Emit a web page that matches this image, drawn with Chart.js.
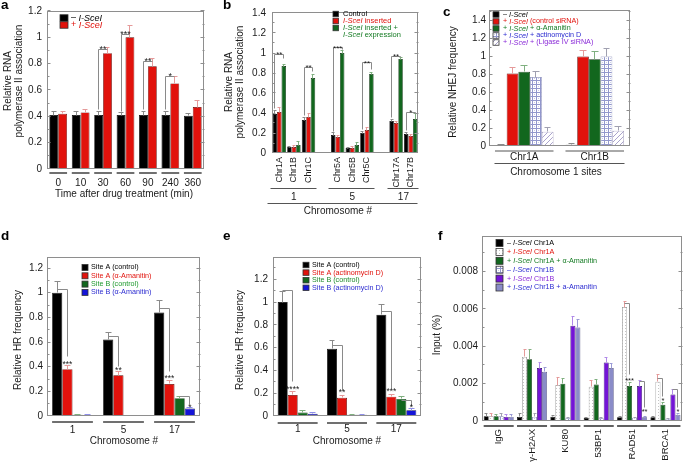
<!DOCTYPE html>
<html><head><meta charset="utf-8">
<script src="https://cdn.jsdelivr.net/npm/chart.js@4.4.1/dist/chart.umd.min.js"></script>
<style>
html,body{margin:0;padding:0;background:#fff}
body{width:685px;height:464px;position:relative;overflow:hidden}
canvas{position:absolute;left:0;top:0}
</style></head><body>
<canvas id="pa" width="685" height="464"></canvas>
<canvas id="pb" width="685" height="464"></canvas>
<canvas id="pc" width="685" height="464"></canvas>
<canvas id="pd" width="685" height="464"></canvas>
<canvas id="pe" width="685" height="464"></canvas>
<canvas id="pf" width="685" height="464"></canvas>
<script>
// ---------------- DATA ----------------
// panel a
const aLabels = ['0','10','30','60','90','240','360'];
const aMinusISceI = [0.41,0.41,0.41,0.41,0.41,0.41,0.405];
const aMinusISceIErr = [0.03,0.03,0.03,0.02,0.03,0.03,0.02];
const aPlusISceI = [0.42,0.43,0.88,1.00,0.78,0.65,0.47];
const aPlusISceIErr = [0.02,0.02,0.04,0.09,0.06,0.05,0.05];
// panel b
const bLabels = ['Chr1A','Chr1B','Chr1C','','Chr5A','Chr5B','Chr5C','','Chr17A','Chr17B'];
const bGroups = ['1','5','17'];
const bControl = [0.39,0.06,0.33,null,0.18,0.05,0.20,null,0.32,0.19];
const bControlErr = [0.04,0.01,0.03,null,0.03,0.01,0.02,null,0.02,0.02];
const bInserted = [0.41,0.06,0.36,null,0.16,0.05,0.23,null,0.30,0.17];
const bInsertedErr = [0.05,0.02,0.03,null,0.02,0.02,0.03,null,0.02,0.02];
const bExpression = [0.87,0.08,0.75,null,1.00,0.08,0.79,null,0.94,0.34];
const bExpressionErr = [0.02,0.04,0.04,null,0.02,0.03,0.02,null,0.02,0.05];
// panel c
const cLabels = ['Chr1A','Chr1B'];
const cMinus = [0.01,0.015];            const cMinusErr = [0.01,0.01];
const cControlSi = [0.81,1.00];         const cControlSiErr = [0.07,0.07];
const cAmanitin = [0.83,0.97];          const cAmanitinErr = [0.07,0.09];
const cActD = [0.77,1.00];              const cActDErr = [0.06,0.09];
const cLigIV = [0.16,0.17];             const cLigIVErr = [0.05,0.05];
// panel d
const dLabels = ['1','5','17'];
const dACtrl = [1.00,0.62,0.84];        const dACtrlErr = [0.09,0.06,0.10];
const dAAma = [0.38,0.33,0.26];         const dAAmaErr = [0.03,0.03,0.03];
const dBCtrl = [0.010,0.005,0.145];     const dBCtrlErr = [0.004,0.003,0.01];
const dBAma = [0.008,0.003,0.060];      const dBAmaErr = [0.004,0.002,0.01];
// panel e
const eLabels = ['1','5','17'];
const eACtrl = [1.00,0.59,0.89];        const eACtrlErr = [0.09,0.07,0.09];
const eAActD = [0.185,0.16,0.17];       const eAActDErr = [0.03,0.02,0.02];
const eBCtrl = [0.03,0.01,0.15];        const eBCtrlErr = [0.02,0.005,0.02];
const eBActD = [0.02,0.01,0.05];        const eBActDErr = [0.015,0.005,0.02];
// panel f
const fLabels = ['IgG','\u03b3-H2AX','KU80','53BP1','RAD51','BRCA1'];
const fMinus1A   = [0.00025,0.00022,0.00023,0.00017,0.00020,0.00020];
const fMinus1AErr= [0.00015,0.00020,0.00004,0.00003,0.00003,0.00003];
const fPlus1A    = [0.00025,0.00343,0.00192,0.00183,0.00610,0.00210];
const fPlus1AErr = [0.00015,0.00040,0.00040,0.00035,0.00030,0.00040];
const fPlus1AAma = [0.00025,0.00330,0.00200,0.00195,0.00187,0.00087];
const fPlus1AAmaErr=[0.00012,0.00055,0.00030,0.00025,0.00020,0.00010];
const fMinus1B   = [0.00025,0.00022,0.00015,0.00015,0.00018,0.00012];
const fMinus1BErr= [0.00015,0.00020,0.00004,0.00003,0.00003,0.00003];
const fPlus1B    = [0.00022,0.00283,0.00510,0.00313,0.00187,0.00142];
const fPlus1BErr = [0.00015,0.00030,0.00050,0.00025,0.00030,0.00025];
const fPlus1BAma = [0.00022,0.00263,0.00500,0.00283,0.00020,0.00033];
const fPlus1BAmaErr=[0.00012,0.00025,0.00045,0.00025,0.00003,0.00005];

// ---------------- STYLE ----------------
const FONT = "'Liberation Sans', Arial, Helvetica, sans-serif";
const COL = {black:'#000000', red:'#e1120c', green:'#12671e', blue:'#1414d8', purple:'#7314d6', lav:'#8a8cc8',
  tBlue:'#2b2bd0', tPurple:'#8a2ad8', tGreen:'#137a22'};
const ERR = {black:'#8a8a8a', red:'#e59a9a', green:'#80b080', blue:'#8f8fe8', grey:'#a0a0b0', purple:'#b08ae8', lav:'#9a9ad6'};

function tile(w, h, draw) {
  const c = document.createElement('canvas'); c.width = w; c.height = h;
  const g = c.getContext('2d'); draw(g);
  return g.createPattern(c, 'repeat');
}
const PAT_CHECK = tile(4, 4, g => { g.fillStyle = '#ffffff'; g.fillRect(0,0,4,4); g.fillStyle = '#9297cc'; g.fillRect(0,0,4,1); g.fillRect(0,0,1,4); g.fillStyle='#c9cbe8'; g.fillRect(2,2,1,1); });
const PAT_HATCH = tile(5, 5, g => { g.fillStyle = '#ffffff'; g.fillRect(0,0,5,5); g.strokeStyle = '#aaa3cc'; g.lineWidth = 1; g.beginPath(); g.moveTo(0,5); g.lineTo(5,0); g.moveTo(-1,1); g.lineTo(1,-1); g.moveTo(4,6); g.lineTo(6,4); g.stroke(); });
const PAT_DOT = tile(3, 3, g => { g.fillStyle = '#ffffff'; g.fillRect(0,0,3,3); g.fillStyle = '#c4c4c4'; g.fillRect(1,1,1,1); });

function tickFmt(v) { const s = +(+v).toFixed(6); return s === 0 ? '0' : String(s); }

function snap(v) { return Math.round(v - 0.5) + 0.5; }
function poly(ctx, pts, color, w) {
  ctx.strokeStyle = color; ctx.lineWidth = w; ctx.beginPath();
  pts.forEach(([x, y], i) => { const px = w === 1 ? snap(x) : x, py = w === 1 ? snap(y) : y; i ? ctx.lineTo(px, py) : ctx.moveTo(px, py); });
  ctx.stroke();
}
function text(ctx, s, x, y, size, color, align, base, style) {
  ctx.font = (style || '') + ' ' + size + 'px ' + FONT;
  ctx.fillStyle = color; ctx.textAlign = align || 'center'; ctx.textBaseline = base || 'middle';
  ctx.fillText(s, x, y);
}
function rich(ctx, parts, x, y, size, color) {
  ctx.textAlign = 'left'; ctx.textBaseline = 'middle'; ctx.fillStyle = color;
  parts.forEach(([s, it]) => { ctx.font = (it ? 'italic ' : '') + size + 'px ' + FONT; ctx.fillText(s, x, y); x += ctx.measureText(s).width; });
}
function vtext(ctx, lines, x, y, size, lh, color) {
  ctx.save(); ctx.translate(x, y); ctx.rotate(-Math.PI / 2);
  ctx.font = size + 'px ' + FONT; ctx.fillStyle = color; ctx.textAlign = 'center'; ctx.textBaseline = 'middle';
  lines.forEach((l, i) => ctx.fillText(l, 0, i * lh));
  ctx.restore();
}

function makeDeco(o) {
  return {
    id: 'deco',
    afterDatasetsDraw(chart) {
      const ctx = chart.ctx, ca = chart.chartArea, ys = chart.scales.y;
      const dss = chart.data.datasets;
      const metas = dss.map((d, i) => chart.getDatasetMeta(i));
      const ext = (a, b) => {
        let l = Infinity, r = -Infinity;
        for (let j = a; j <= b; j++) metas.forEach((m, i) => {
          if (dss[i].data[j] == null) return; const bar = m.data[j];
          l = Math.min(l, bar.x - bar.width / 2); r = Math.max(r, bar.x + bar.width / 2);
        });
        return [l, r];
      };
      ctx.save();
      // error bars
      dss.forEach((ds, i) => {
        if (!ds.err) return;
        metas[i].data.forEach((bar, j) => {
          const v = ds.data[j], e = ds.err[j];
          if (v == null || e == null) return;
          const y0 = ys.getPixelForValue(v), y1 = ys.getPixelForValue(v + e);
          const cw = Math.max(1.5, bar.width * 0.28);
          poly(ctx, [[bar.x, y0], [bar.x, y1]], ds.errColor, 1);
          poly(ctx, [[bar.x - cw, y1], [bar.x + cw, y1]], ds.errColor, 1);
        });
      });
      // frame and y tick marks
      const fc = '#8e8e8e';
      ctx.strokeStyle = fc; ctx.lineWidth = 1;
      const L = Math.round(ca.left), R = Math.round(ca.right), T = Math.round(ca.top), B = Math.round(ca.bottom);
      ctx.strokeRect(L + 0.5, T + 0.5, R - L - 1, B - T - 1);
      const n = Math.floor(o.ymax / (o.ystep / 2) + 1e-6);
      for (let k = 1; k <= n; k++) {
        const py = ys.getPixelForValue(k * o.ystep / 2);
        const len = k % 2 === 0 ? 3.5 : 2;
        poly(ctx, [[L, py], [L + len, py]], fc, 1);
        poly(ctx, [[R - len, py], [R, py]], fc, 1);
      }
      // category underline bars
      if (o.catLines) {
        chart.data.labels.forEach((lab, j) => {
          if (!lab) return;
          const [l, r] = ext(j, j);
          ctx.strokeStyle = o.catLines.color; ctx.lineWidth = o.catLines.w;
          ctx.beginPath(); ctx.moveTo(l, o.catLines.y); ctx.lineTo(r, o.catLines.y); ctx.stroke();
        });
      }
      if (o.groups) {
        o.groups.items.forEach(g => {
          const [l, r] = ext(g.a, g.b);
          poly(ctx, [[l - 2, o.groups.y], [r + 1, o.groups.y]], '#555', 1);
          text(ctx, g.text, (l + r) / 2, o.groups.labelY, 10, '#1a1a1a');
        });
      }
      if (o.longLine) {
        const [l, r] = ext(o.longLine.a, o.longLine.b);
        poly(ctx, [[l - o.longLine.padL, o.longLine.y], [r, o.longLine.y]], '#555', 1);
      }
      // significance brackets
      (o.sig || []).forEach(s => {
        const f = metas[s.from].data[s.cat], t = metas[s.to].data[s.cat];
        const yl = ys.getPixelForValue(s.level);
        const yf = ys.getPixelForValue(s.fromEnd != null ? s.fromEnd : s.level);
        const yt = ys.getPixelForValue(s.toEnd != null ? s.toEnd : s.level);
        poly(ctx, [[f.x, yf], [f.x, yl], [t.x, yl], [t.x, yt]], '#8a8a8a', 1);
        const tx = s.at === 'to' ? t.x : (f.x + t.x) / 2;
        const ty = s.textAt != null ? ys.getPixelForValue(s.textAt) : yl + 2.5;
        text(ctx, s.text, tx, ty, o.sigSize || 9, '#1a1a1a', 'center', 'alphabetic');
      });
      // legend
      if (o.legend) {
        const lg = o.legend;
        lg.items.forEach((it, k) => {
          const yc = lg.y + k * lg.gap;
          if (it.ds != null) {
            ctx.fillStyle = dss[it.ds].backgroundColor;
            ctx.fillRect(lg.x, yc - lg.sh / 2, lg.sw, lg.sh);
            ctx.strokeStyle = '#333'; ctx.lineWidth = 0.8;
            ctx.strokeRect(lg.x, yc - lg.sh / 2, lg.sw, lg.sh);
          }
          rich(ctx, it.parts, lg.tx, yc, lg.size, it.color);
        });
      }
      // titles
      if (o.yTitle) vtext(ctx, o.yTitle.lines, o.yTitle.x, o.yTitle.y, 10, 11, '#1a1a1a');
      if (o.xTitle) text(ctx, o.xTitle.text, o.xTitle.x, o.xTitle.y, 10, '#1a1a1a');
      if (o.letter) text(ctx, o.letter.text, o.letter.x, o.letter.y, 13.5, '#000', 'left', 'alphabetic', 'bold');
      ctx.restore();
    }
  };
}

function build(id, p) {
  return new Chart(document.getElementById(id), {
    type: 'bar',
    data: {labels: p.labels, datasets: p.datasets.map(d => Object.assign({
      borderSkipped: 'start', borderWidth: {top: 0.7, left: 0.7, right: 0.7, bottom: 0}, borderColor: '#222'}, d))},
    options: {
      responsive: false, animation: false, devicePixelRatio: 1, events: [],
      layout: {padding: {left: 0, top: p.area.t, right: 685 - p.area.r, bottom: 464 - p.area.b - p.H}},
      datasets: {bar: {categoryPercentage: p.catPct, barPercentage: 1}},
      plugins: {legend: {display: false}, tooltip: {enabled: false}},
      scales: {
        x: {type: 'category', grid: {display: false, drawTicks: false}, border: {display: false},
          ticks: Object.assign({autoSkip: false, color: '#1a1a1a', font: {family: FONT, size: 10}, maxRotation: 0, minRotation: 0}, p.xticks),
          afterFit(s) { s.height = p.H; }},
        y: {type: 'linear', min: 0, max: p.ymax, grid: {display: false, drawTicks: false}, border: {display: false},
          ticks: {stepSize: p.ystep, includeBounds: false, padding: p.ypad, color: '#1a1a1a', font: {family: FONT, size: 10}, callback: tickFmt},
          afterFit(s) { s.width = p.area.l; }}
      }
    },
    plugins: [makeDeco(Object.assign({ymax: p.ymax, ystep: p.ystep}, p.deco))]
  });
}

const I = (s) => [s, 1], N = (s) => [s, 0];

// ---------------- PANEL A ----------------
build('pa', {
  area: {l: 47, r: 204, t: 9, b: 169}, H: 31, ymax: 1.2, ystep: 0.2, ypad: 5, catPct: 0.79,
  labels: aLabels, xticks: {padding: 8},
  datasets: [
    {data: aMinusISceI, err: aMinusISceIErr, backgroundColor: COL.black, borderColor: '#000', errColor: ERR.black},
    {data: aPlusISceI, err: aPlusISceIErr, backgroundColor: COL.red, borderColor: '#5a0a06', errColor: ERR.red}
  ],
  deco: {
    catLines: {y: 173, w: 2, color: '#707070'},
    sig: [
      {cat: 2, from: 0, to: 1, fromEnd: 0.45, level: 0.91, text: '**'},
      {cat: 3, from: 0, to: 1, fromEnd: 0.44, level: 1.02, text: '***'},
      {cat: 4, from: 0, to: 1, fromEnd: 0.45, level: 0.82, text: '**'},
      {cat: 5, from: 0, to: 1, fromEnd: 0.45, level: 0.70, text: '*'}
    ],
    legend: {x: 60, y: 18, sw: 8, sh: 6.5, gap: 7, tx: 71, size: 9, items: [
      {ds: 0, color: '#000', parts: [N('\u2013 '), I('I-SceI')]},
      {ds: 1, color: COL.red, parts: [N('+ '), I('I-SceI')]}
    ]},
    yTitle: {lines: ['Relative RNA', 'polymerase II association'], x: 8, y: 81},
    xTitle: {text: 'Time after drug treatment (min)', x: 124, y: 194},
    letter: {text: 'a', x: 1, y: 9}
  }
});

// ---------------- PANEL B ----------------
build('pb', {
  area: {l: 272, r: 418, t: 10, b: 153}, H: 64, ymax: 1.41, ystep: 0.2, ypad: 6, catPct: 0.92,
  labels: bLabels, xticks: {padding: 4, maxRotation: 90, minRotation: 90, font: {family: FONT, size: 9}},
  datasets: [
    {data: bControl, err: bControlErr, backgroundColor: COL.black, borderColor: '#000', errColor: ERR.black},
    {data: bInserted, err: bInsertedErr, backgroundColor: COL.red, borderColor: '#5a0a06', errColor: ERR.red},
    {data: bExpression, err: bExpressionErr, backgroundColor: COL.green, borderColor: '#0a300e', errColor: ERR.green}
  ],
  deco: {
    groups: {y: 188.5, labelY: 197, items: [{a: 0, b: 2, text: bGroups[0]}, {a: 4, b: 6, text: bGroups[1]}, {a: 8, b: 9, text: bGroups[2]}]},
    longLine: {y: 203.5, a: 0, b: 9, padL: 5},
    sigSize: 8,
    sig: [
      {cat: 0, from: 0, to: 2, fromEnd: 0.45, level: 0.99, toEnd: 0.95, text: '**'},
      {cat: 2, from: 0, to: 2, fromEnd: 0.38, level: 0.86, toEnd: 0.82, text: '**'},
      {cat: 4, from: 0, to: 2, fromEnd: 0.22, level: 1.05, toEnd: 1.03, text: '***'},
      {cat: 6, from: 0, to: 2, fromEnd: 0.24, level: 0.90, toEnd: 0.84, text: '**'},
      {cat: 8, from: 0, to: 2, fromEnd: 0.36, level: 0.97, toEnd: 0.96, text: '**'},
      {cat: 9, from: 0, to: 2, fromEnd: 0.23, level: 0.41, toEnd: 0.40, text: '*'}
    ],
    legend: {x: 333, y: 14, sw: 5.5, sh: 5.5, gap: 7, tx: 343, size: 7.5, items: [
      {ds: 0, color: '#000', parts: [N('Control')]},
      {ds: 1, color: COL.red, parts: [I('I-SceI'), N(' inserted')]},
      {ds: 2, color: COL.tGreen, parts: [I('I-SceI'), N(' inserted +')]},
      {color: COL.tGreen, parts: [I('I-SceI'), N(' expression')]}
    ]},
    yTitle: {lines: ['Relative RNA', 'polymerase II association'], x: 229, y: 82},
    xTitle: {text: 'Chromosome #', x: 338, y: 211},
    letter: {text: 'b', x: 223, y: 9}
  }
});

// ---------------- PANEL C ----------------
build('pc', {
  area: {l: 489, r: 630, t: 10, b: 146}, H: 32, ymax: 1.52, ystep: 0.2, ypad: 3, catPct: 0.83,
  labels: cLabels, xticks: {padding: 5},
  datasets: [
    {data: cMinus, err: cMinusErr, backgroundColor: COL.black, borderColor: '#000', errColor: ERR.black},
    {data: cControlSi, err: cControlSiErr, backgroundColor: COL.red, borderColor: '#5a0a06', errColor: ERR.red},
    {data: cAmanitin, err: cAmanitinErr, backgroundColor: COL.green, borderColor: '#0a300e', errColor: ERR.green},
    {data: cActD, err: cActDErr, backgroundColor: PAT_CHECK, borderColor: '#7c80b0', errColor: ERR.grey},
    {data: cLigIV, err: cLigIVErr, backgroundColor: PAT_HATCH, borderColor: '#9a94b8', errColor: ERR.grey}
  ],
  deco: {
    catLines: {y: 151, w: 1, color: '#555'},
    longLine: {y: 163.5, a: 0, b: 1, padL: 0},
    legend: {x: 493, y: 14.5, sw: 6, sh: 5.5, gap: 7, tx: 503, size: 7.2, items: [
      {ds: 0, color: '#000', parts: [N('\u2013 '), I('I-SceI')]},
      {ds: 1, color: COL.red, parts: [N('+ '), I('I-SceI'), N(' (control siRNA)')]},
      {ds: 2, color: COL.tGreen, parts: [N('+ '), I('I-SceI'), N(' + \u03b1-Amanitin')]},
      {ds: 3, color: COL.tBlue, parts: [N('+ '), I('I-SceI'), N(' + actinomycin D')]},
      {ds: 4, color: COL.tPurple, parts: [N('+ '), I('I-SceI'), N(' + (Ligase IV siRNA)')]}
    ]},
    yTitle: {lines: ['Relative NHEJ frequency'], x: 453, y: 82},
    xTitle: {text: 'Chromosome 1 sites', x: 556, y: 172},
    letter: {text: 'c', x: 443, y: 16}
  }
});

// ---------------- PANEL D ----------------
build('pd', {
  area: {l: 47, r: 200, t: 257, b: 416}, H: 31, ymax: 1.29, ystep: 0.2, ypad: 4, catPct: 0.8,
  labels: dLabels, xticks: {padding: 8},
  datasets: [
    {data: dACtrl, err: dACtrlErr, backgroundColor: COL.black, borderColor: '#000', errColor: ERR.black},
    {data: dAAma, err: dAAmaErr, backgroundColor: COL.red, borderColor: '#5a0a06', errColor: ERR.red},
    {data: dBCtrl, err: dBCtrlErr, backgroundColor: COL.green, borderColor: '#0a300e', errColor: ERR.green},
    {data: dBAma, err: dBAmaErr, backgroundColor: COL.blue, borderColor: '#0a0a50', errColor: ERR.blue}
  ],
  deco: {
    catLines: {y: 422, w: 2, color: '#707070'},
    sigSize: 8.5,
    sig: [
      {cat: 0, from: 0, to: 1, level: 1.03, toEnd: 0.48, text: '***', at: 'to', textAt: 0.395},
      {cat: 1, from: 0, to: 1, level: 0.645, toEnd: 0.40, text: '**', at: 'to', textAt: 0.345},
      {cat: 2, from: 0, to: 1, level: 0.87, toEnd: 0.36, text: '***', at: 'to', textAt: 0.285},
      {cat: 2, from: 2, to: 3, level: 0.155, toEnd: 0.095, text: '*', at: 'to', textAt: 0.05}
    ],
    legend: {x: 82, y: 267.5, sw: 6, sh: 6, gap: 8.3, tx: 91, size: 7.2, items: [
      {ds: 0, color: '#000', parts: [N('Site A (control)')]},
      {ds: 1, color: COL.red, parts: [N('Site A (\u03b1-Amanitin)')]},
      {ds: 2, color: '#1f9a2e', parts: [N('Site B (control)')]},
      {ds: 3, color: COL.tBlue, parts: [N('Site B (\u03b1-Amanitin)')]}
    ]},
    yTitle: {lines: ['Relative HR frequency'], x: 18, y: 340},
    xTitle: {text: 'Chromosome #', x: 124, y: 441},
    letter: {text: 'd', x: 1, y: 240}
  }
});

// ---------------- PANEL E ----------------
build('pe', {
  area: {l: 273, r: 421, t: 257, b: 416}, H: 31, ymax: 1.396, ystep: 0.2, ypad: 5, catPct: 0.81,
  labels: eLabels, xticks: {padding: 7},
  datasets: [
    {data: eACtrl, err: eACtrlErr, backgroundColor: COL.black, borderColor: '#000', errColor: ERR.black},
    {data: eAActD, err: eAActDErr, backgroundColor: COL.red, borderColor: '#5a0a06', errColor: ERR.red},
    {data: eBCtrl, err: eBCtrlErr, backgroundColor: COL.green, borderColor: '#0a300e', errColor: ERR.green},
    {data: eBActD, err: eBActDErr, backgroundColor: COL.blue, borderColor: '#0a0a50', errColor: ERR.blue}
  ],
  deco: {
    catLines: {y: 423, w: 2, color: '#707070'},
    sigSize: 8.5,
    sig: [
      {cat: 0, from: 0, to: 1, level: 1.10, toEnd: 0.30, text: '****', at: 'to', textAt: 0.215},
      {cat: 1, from: 0, to: 1, level: 0.62, toEnd: 0.22, text: '**', at: 'to', textAt: 0.18},
      {cat: 2, from: 0, to: 1, level: 0.915, toEnd: 0.245, text: '***', at: 'to', textAt: 0.195},
      {cat: 2, from: 2, to: 3, level: 0.14, toEnd: 0.085, text: '*', at: 'to', textAt: 0.05}
    ],
    legend: {x: 303, y: 265, sw: 6, sh: 5.5, gap: 7.6, tx: 312, size: 7.2, items: [
      {ds: 0, color: '#000', parts: [N('Site A (control)')]},
      {ds: 1, color: COL.red, parts: [N('Site A (actinomycin D)')]},
      {ds: 2, color: '#1f8a2c', parts: [N('Site B (control)')]},
      {ds: 3, color: COL.tBlue, parts: [N('Site B (actinomycin D)')]}
    ]},
    yTitle: {lines: ['Relative HR frequency'], x: 240, y: 340},
    xTitle: {text: 'Chromosome #', x: 347, y: 441},
    letter: {text: 'e', x: 223, y: 240}
  }
});

// ---------------- PANEL F ----------------
build('pf', {
  area: {l: 482, r: 683, t: 236, b: 421}, H: 43, ymax: 0.0099, ystep: 0.002, ypad: 4, catPct: 0.9,
  labels: fLabels, xticks: {padding: 8, maxRotation: 90, minRotation: 90, font: {family: FONT, size: 9.5}},
  datasets: [
    {data: fMinus1A, err: fMinus1AErr, backgroundColor: COL.black, borderColor: '#000', errColor: ERR.black},
    {data: fPlus1A, err: fPlus1AErr, backgroundColor: PAT_DOT, borderColor: '#8a8a8a', errColor: ERR.red},
    {data: fPlus1AAma, err: fPlus1AAmaErr, backgroundColor: COL.green, borderColor: '#0a300e', errColor: ERR.green},
    {data: fMinus1B, err: fMinus1BErr, backgroundColor: PAT_CHECK, borderColor: '#7c80b0', errColor: ERR.grey},
    {data: fPlus1B, err: fPlus1BErr, backgroundColor: COL.purple, borderColor: '#2a0860', errColor: ERR.purple},
    {data: fPlus1BAma, err: fPlus1BAmaErr, backgroundColor: COL.lav, borderColor: '#505080', errColor: ERR.lav}
  ],
  deco: {
    catLines: {y: 426, w: 2, color: '#606060'},
    sigSize: 7.5,
    sig: [
      {cat: 4, from: 1, to: 2, level: 0.0063, toEnd: 0.0025, text: '***', at: 'to', textAt: 0.00205},
      {cat: 4, from: 4, to: 5, level: 0.0021, toEnd: 0.0007, text: '**', at: 'to', textAt: 0.00035},
      {cat: 5, from: 1, to: 2, level: 0.0023, toEnd: 0.0013, text: '*', at: 'to', textAt: 0.00095},
      {cat: 5, from: 4, to: 5, level: 0.0017, toEnd: 0.0007, text: '*', at: 'to', textAt: 0.00038}
    ],
    legend: {x: 496, y: 243, sw: 7, sh: 7, gap: 8.9, tx: 507, size: 7.2, items: [
      {ds: 0, color: '#000', parts: [N('\u2013 '), I('I-SceI'), N(' Chr1A')]},
      {ds: 1, color: COL.red, parts: [N('+ '), I('I-SceI'), N(' Chr1A')]},
      {ds: 2, color: COL.tGreen, parts: [N('+ '), I('I-SceI'), N(' Chr1A + \u03b1-Amanitin')]},
      {ds: 3, color: COL.tBlue, parts: [N('\u2013 '), I('I-SceI'), N(' Chr1B')]},
      {ds: 4, color: COL.tPurple, parts: [N('+ '), I('I-SceI'), N(' Chr1B')]},
      {ds: 5, color: COL.tBlue, parts: [N('+ '), I('I-SceI'), N(' Chr1B + a-Amanitin')]}
    ]},
    yTitle: {lines: ['Input (%)'], x: 437, y: 335},
    letter: {text: 'f', x: 438, y: 240}
  }
});
</script>
</body></html>
